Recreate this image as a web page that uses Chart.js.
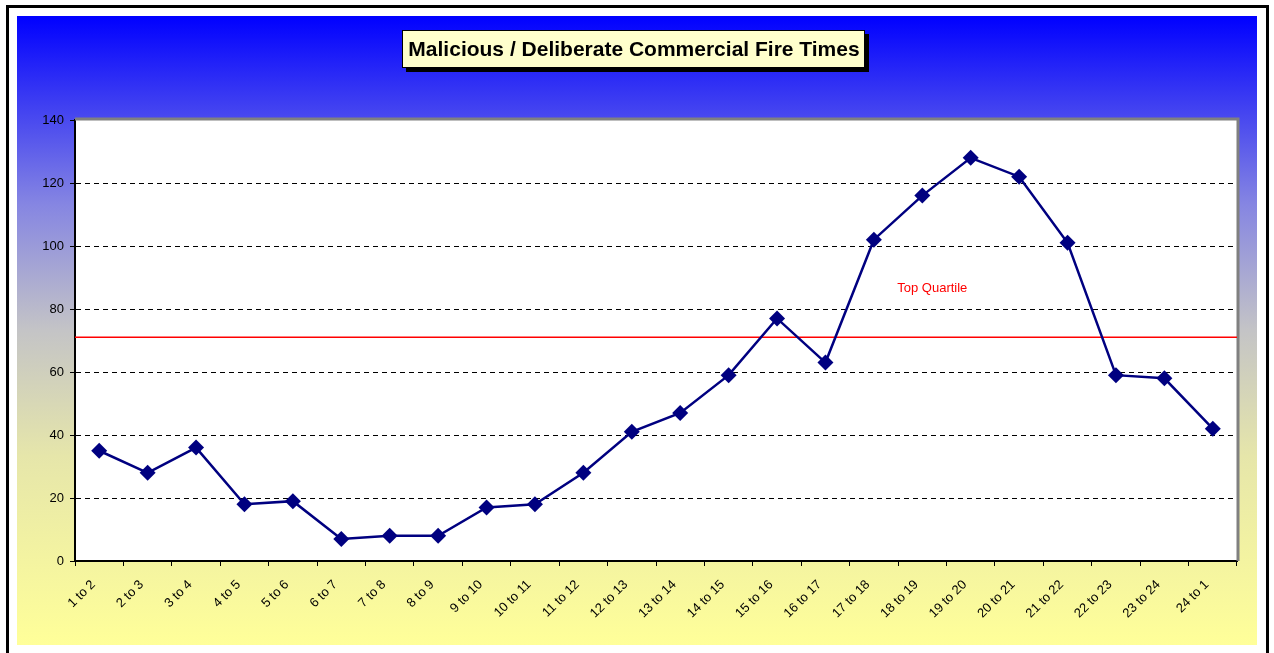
<!DOCTYPE html>
<html>
<head>
<meta charset="utf-8">
<script src="https://cdn.jsdelivr.net/npm/chart.js@4/dist/chart.umd.min.js"></script>
<style>
  html, body { margin: 0; padding: 0; background: #fff; }
  canvas { display: block; }
</style>
</head>
<body>
<canvas id="grafico" width="1274" height="653"></canvas>
<script>
const titulo = "Malicious / Deliberate Commercial Fire Times";
const horas = ["1 to 2", "2 to 3", "3 to 4", "4 to 5", "5 to 6", "6 to 7", "7 to 8", "8 to 9",
  "9 to 10", "10 to 11", "11 to 12", "12 to 13", "13 to 14", "14 to 15", "15 to 16", "16 to 17",
  "17 to 18", "18 to 19", "19 to 20", "20 to 21", "21 to 22", "22 to 23", "23 to 24", "24 to 1"];
const incendios = [35, 28, 36, 18, 19, 7, 8, 8, 17, 18, 28, 41, 47, 59, 77, 63, 102, 116, 128, 122, 101, 59, 58, 42];
const topQuartil = 71;
const rotuloQuartil = "Top Quartile";
const yTicks = [0, 20, 40, 60, 80, 100, 120, 140];

const FONTE = "Arial, 'Liberation Sans', sans-serif";

// fundo, moldura e caixa do titulo
const fundoPlugin = {
  id: "fundo",
  beforeDraw(chart) {
    const ctx = chart.ctx;
    const area = chart.chartArea;
    ctx.save();
    ctx.fillStyle = "#fff";
    ctx.fillRect(0, 0, chart.width, chart.height);

    const grad = ctx.createLinearGradient(0, 16, 0, 645);
    grad.addColorStop(0, "#0000ff");
    grad.addColorStop(0.3, "#8686e2");
    grad.addColorStop(0.5, "#c4c4c6");
    grad.addColorStop(0.7, "#e6e6aa");
    grad.addColorStop(1, "#ffff99");
    ctx.fillStyle = grad;
    ctx.fillRect(17, 16, 1240, 629);

    ctx.strokeStyle = "#000";
    ctx.lineWidth = 3;
    ctx.strokeRect(7.5, 6.5, 1260, 660);

    // area do grafico
    ctx.fillStyle = "#fff";
    ctx.fillRect(area.left, area.top, area.right - area.left, area.bottom - area.top);

    // titulo
    ctx.font = "bold 21px " + FONTE;
    const w = ctx.measureText(titulo).width;
    const cx = 634, cy = 49;
    const bx = Math.round(cx - w / 2 - 6), by = 30, bw = Math.round(w + 12), bh = 38;
    ctx.fillStyle = "#000";
    ctx.fillRect(bx + 4, by + 4, bw, bh);
    ctx.fillStyle = "#ffffcc";
    ctx.fillRect(bx, by, bw, bh);
    ctx.lineWidth = 1;
    ctx.strokeRect(bx + 0.5, by + 0.5, bw - 1, bh - 1);
    ctx.fillStyle = "#000";
    ctx.textAlign = "center";
    ctx.textBaseline = "middle";
    ctx.fillText(titulo, cx, cy + 1);
    ctx.restore();
  },
  beforeDatasetsDraw(chart) {
    const ctx = chart.ctx;
    const area = chart.chartArea;
    const y = chart.scales.y.getPixelForValue(topQuartil);
    ctx.save();
    // borda cinza no topo e na direita
    ctx.strokeStyle = "#808080";
    ctx.lineWidth = 3;
    ctx.beginPath();
    ctx.moveTo(area.left, area.top - 1);
    ctx.lineTo(area.right + 1, area.top - 1);
    ctx.lineTo(area.right + 1, area.bottom);
    ctx.stroke();
    // linha do quartil
    ctx.strokeStyle = "#ff0000";
    ctx.lineWidth = 1.5;
    ctx.beginPath();
    ctx.moveTo(area.left, y);
    ctx.lineTo(area.right, y);
    ctx.stroke();
    ctx.fillStyle = "#ff0000";
    ctx.font = "13px " + FONTE;
    ctx.textAlign = "center";
    ctx.textBaseline = "middle";
    const xs = chart.scales.x;
    ctx.fillText(rotuloQuartil, xs.getPixelForValue(17) + 10, chart.scales.y.getPixelForValue(86.5));
    ctx.restore();
  }
};

const ctx = document.getElementById("grafico").getContext("2d");
new Chart(ctx, {
  type: "line",
  data: {
    labels: horas,
    datasets: [{
      data: incendios,
      borderColor: "#000080",
      backgroundColor: "#000080",
      borderWidth: 2.5,
      pointStyle: "rectRot",
      pointRadius: 8,
      pointBorderWidth: 0,
      pointBackgroundColor: "#000080",
      tension: 0,
      fill: false,
    }],
  },
  options: {
    responsive: false,
    animation: false,
    layout: { padding: { top: 120, right: 37, left: 0, bottom: 0 } },
    plugins: {
      legend: { display: false },
      title: { display: false },
      tooltip: { enabled: false },
    },
    scales: {
      x: {
        offset: true,
        afterFit: (s) => { s.height = 92; },
        grid: {
          offset: true,
          drawOnChartArea: false,
          drawTicks: true,
          tickLength: 5,
          tickColor: "#000",
          tickWidth: 1,
        },
        border: { display: true, color: "#000", width: 2 },
        ticks: {
          color: "#000",
          font: { family: FONTE, size: 13 },
          minRotation: 45,
          maxRotation: 45,
          autoSkip: false,
          padding: 11,
          labelOffset: -6,
        },
      },
      y: {
        min: 0,
        max: 140,
        afterFit: (s) => { s.width = 75; },
        afterBuildTicks: (s) => { s.ticks = yTicks.map(v => ({ value: v })); },
        grid: {
          color: (c) => (c.tick && (c.tick.value === 0 || c.tick.value === 140)) ? "rgba(0,0,0,0)" : "#000",
          lineWidth: 1,
          tickLength: 5,
          tickColor: "#000",
          tickWidth: 1,
        },
        border: { display: true, color: "#000", width: 2, dash: [5, 4] },
        ticks: {
          color: "#000",
          font: { family: FONTE, size: 13 },
          padding: 6,
        },
      },
    },
  },
  plugins: [fundoPlugin],
});
</script>
</body>
</html>
